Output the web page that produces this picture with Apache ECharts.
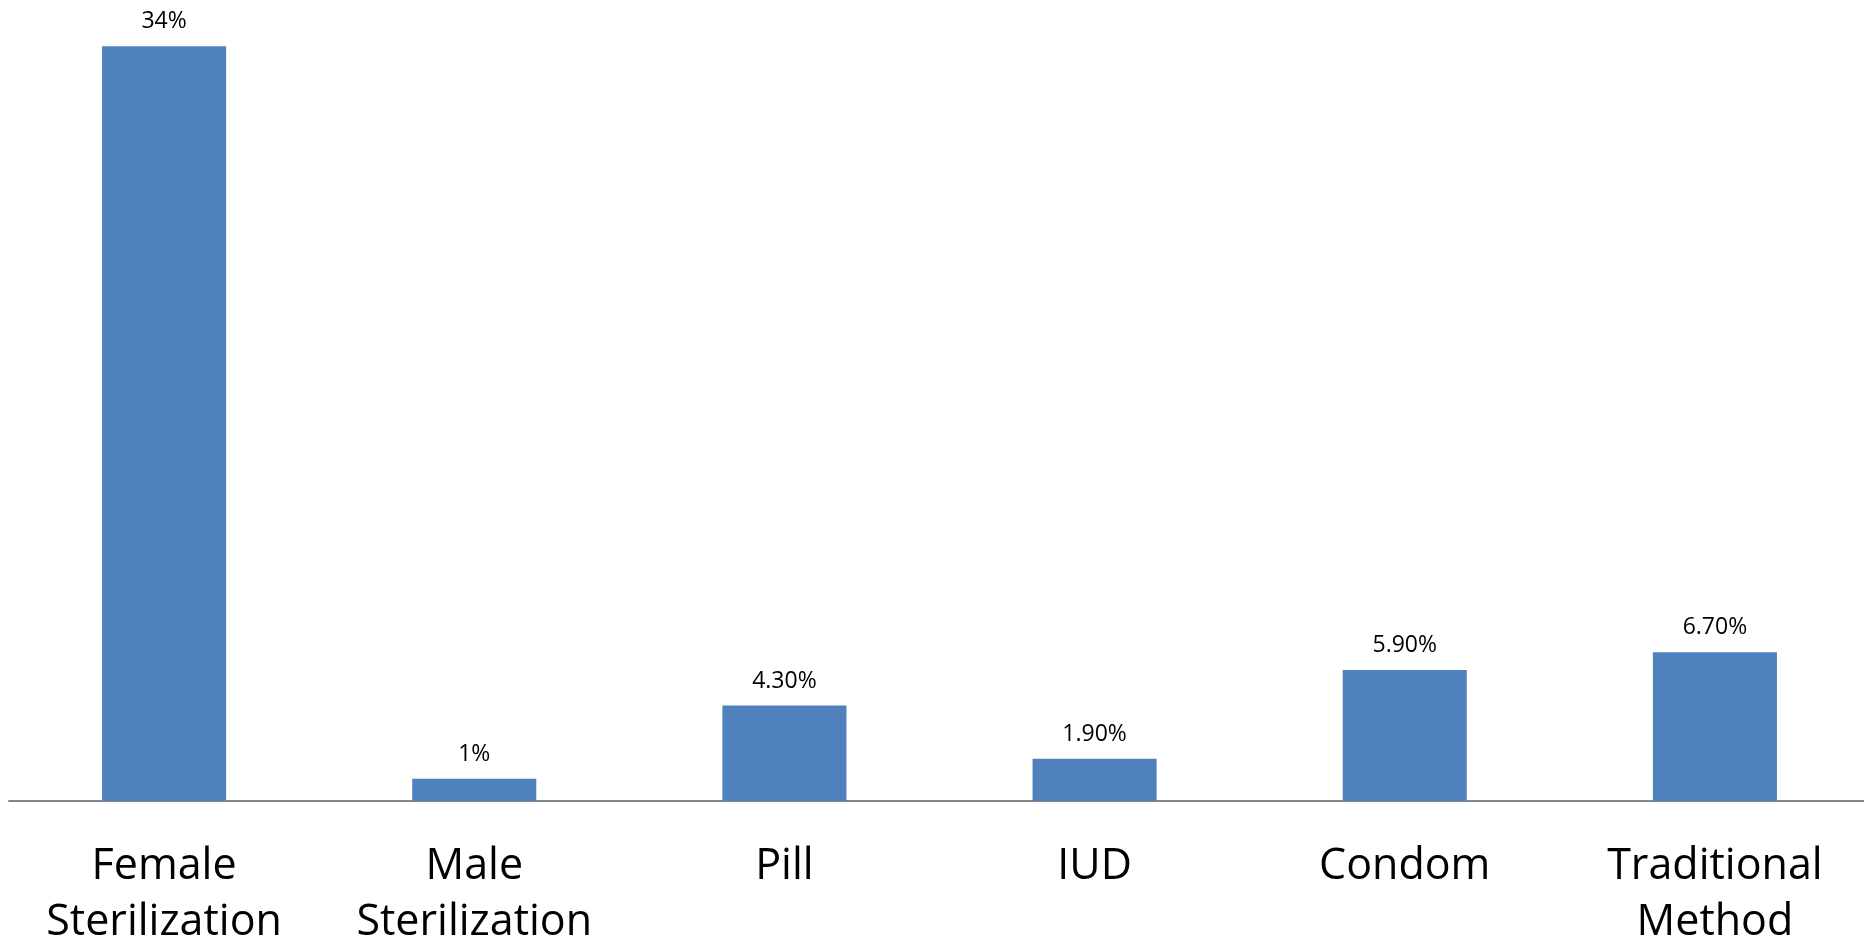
<!DOCTYPE html>
<html>
<head>
<meta charset="utf-8">
<script src="https://cdn.jsdelivr.net/npm/echarts@6/dist/echarts.min.js"></script>
<style>
html,body{margin:0;padding:0;background:#fff;}
#chart{width:1864px;height:943px;}
</style>
</head>
<body>
<div id="chart"></div>
<script>
const categories = ["Female\nSterilization", "Male\nSterilization", "Pill", "IUD", "Condom", "Traditional\nMethod"];
const values = [34, 1, 4.3, 1.9, 5.9, 6.7];
const valueLabels = ["34%", "1%", "4.30%", "1.90%", "5.90%", "6.70%"];

const chart = echarts.init(document.getElementById('chart'));
chart.setOption({
  animation: false,
  grid: { left: 9, width: 1861, top: 24, bottom: 142, containLabel: false, outerBoundsMode: 'none' },
  xAxis: {
    type: 'category',
    data: categories,
    axisLine: { lineStyle: { color: '#868686', width: 2 } },
    axisTick: { show: false },
    axisLabel: {
      interval: 0,
      margin: 38,
      fontFamily: "'Open Sans', sans-serif",
      fontSize: 43,
      lineHeight: 56,
      color: '#000'
    }
  },
  yAxis: {
    type: 'value',
    min: 0,
    max: 35,
    show: false,
    splitLine: { show: false }
  },
  series: [{
    type: 'bar',
    data: values,
    barWidth: '40%',
    itemStyle: { color: '#4F81BD' },
    label: {
      show: true,
      position: 'top',
      distance: 13,
      fontFamily: "'Open Sans', sans-serif",
      fontSize: 23,
      color: '#000',
      formatter: p => valueLabels[p.dataIndex]
    }
  }]
});
</script>
</body>
</html>
